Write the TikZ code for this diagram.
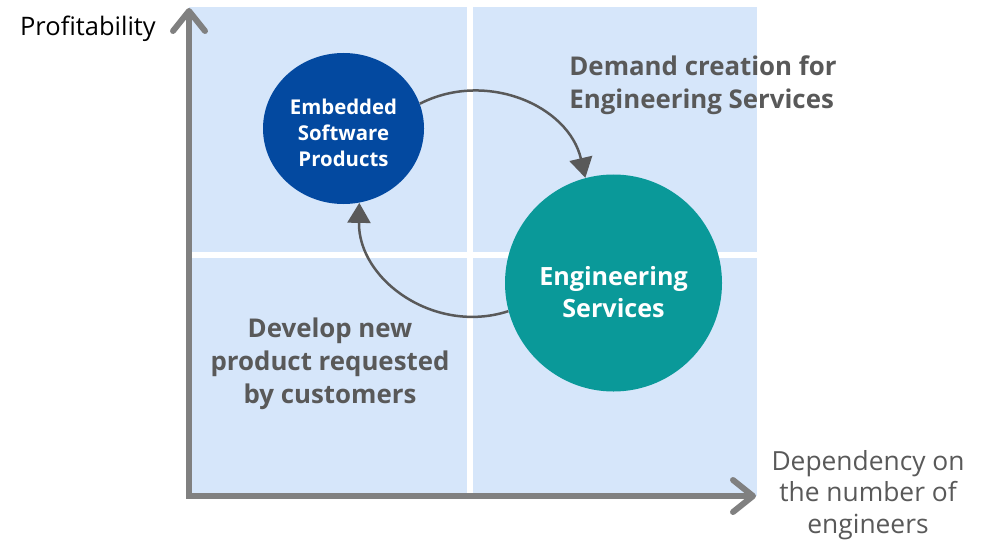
\documentclass[tikz,border=0pt]{standalone}
\usepackage{fontspec}
\setmainfont{Open Sans}
\usetikzlibrary{arrows.meta,shapes.geometric}

\definecolor{quadblue}{RGB}{214,230,250}
\definecolor{embblue}{RGB}{3,73,160}
\definecolor{engteal}{RGB}{10,153,153}
\definecolor{flowgray}{RGB}{89,89,89}
\definecolor{axisgray}{RGB}{128,128,128}

\begin{document}
\begin{tikzpicture}[x=0.2mm, y=-0.2mm,
    axis/.style={line width=1.2mm, color=axisgray, line join=miter},
    flow/.style={line width=0.5mm, color=flowgray, -{Triangle[length=4mm, width=4.6mm]}},
    note/.style={text=flowgray, font=\bfseries\fontsize{14.7}{18.9}\selectfont, align=center},
    blob/.style={inner sep=0pt, text=white, align=center},
  ]
    \useasboundingbox (0, 0) rectangle (986, 542);

    \coordinate (ytop) at (189, 8);
    \coordinate (xend) at (756, 496);

    % Quadrants
    \fill[quadblue] (189, 7) rectangle (757, 496);
    \draw[white, line width=1.2mm] (470, 7) -- (470, 496);
    \draw[white, line width=1.2mm] (189, 255) -- (757, 255);

    % Axes
    \draw[axis, {Straight Barb[length=4mm, width=6.4mm, round]}-{Straight Barb[length=4mm, width=6.4mm, round]}]
      (ytop) |- (xend);
    \node[anchor=east, font=\fontsize{14.5}{17}\selectfont] (yname) at (162, 29) {Profitability};
    \node[align=center, text=flowgray, font=\fontsize{15}{18}\selectfont] (xname) at (868, 495)
      {Dependency on\\the number of\\engineers};

    % The two businesses
    \node[blob, ellipse, fill=embblue, minimum width=32.2mm, minimum height=30.2mm,
      text height=43pt, font=\bfseries\fontsize{11.6}{14.7}\selectfont] (emb) at (343.5, 128.5)
      {Embedded\\Software\\Products};
    \node[blob, circle, fill=engteal, minimum size=43.4mm, text height=39pt,
      font=\bfseries\fontsize{14.3}{18.1}\selectfont] (eng) at (613.5, 283)
      {Engineering\\Services};

    % Cycle between them
    \draw[flow] (emb.18) to[out=27, in=103, looseness=1.05] (eng.105);
    \draw[flow] (eng.195) to[out=-162, in=-91, looseness=1.07] (emb.-78);

    \node[note, align=left] (demand) at (703, 85) {Demand creation for\\Engineering Services};
    \node[note] (develop) at (330, 364) {Develop new\\product requested\\by customers};
\end{tikzpicture}
\end{document}
